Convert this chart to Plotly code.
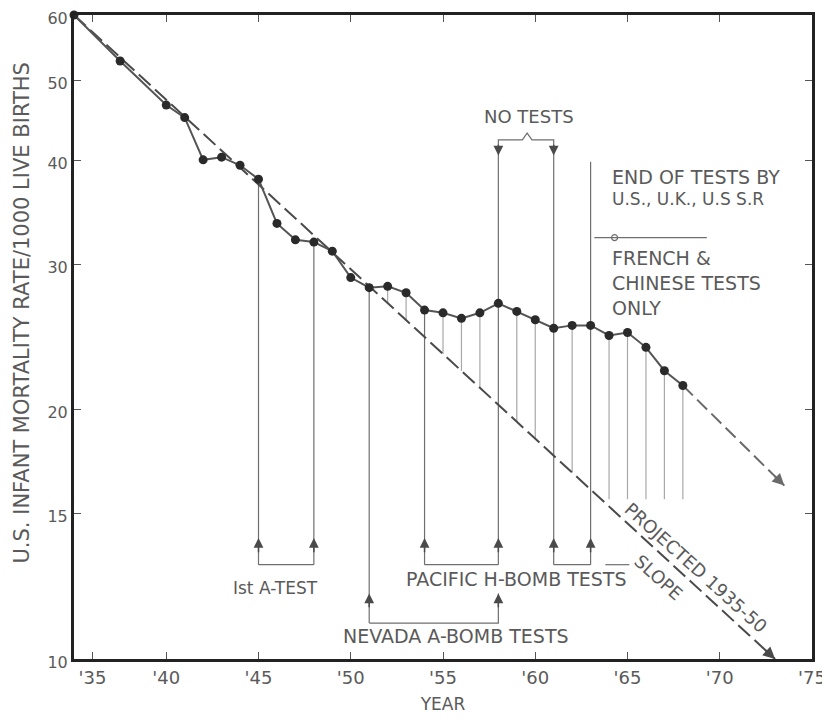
import math
import plotly.graph_objects as go

# ---------------- data ----------------
years = [1935, 1937.5, 1940, 1941, 1942, 1943, 1944, 1945, 1946, 1947, 1948, 1949,
         1950, 1951, 1952, 1953, 1954, 1955, 1956, 1957, 1958, 1959, 1960, 1961,
         1962, 1963, 1964, 1965, 1966, 1967, 1968]
rates = [60.0, 52.8, 46.7, 45.1, 40.1, 40.4, 39.5, 38.0, 33.6, 32.1, 31.9, 31.1,
         28.9, 28.1, 28.2, 27.7, 26.4, 26.2, 25.8, 26.2, 26.9, 26.3, 25.7, 25.1,
         25.3, 25.3, 24.6, 24.8, 23.8, 22.3, 21.4]

proj_years = [1935, 1973]          # projected 1935-50 slope
proj_rates = [60.0, 10.0]
ext_years = [1968, 1973.5]         # extension of the recent trend
ext_rates = [21.4, 16.2]

hatch_years = [1952, 1953, 1955, 1956, 1957, 1959, 1960, 1962, 1964, 1965, 1966, 1967, 1968]
hatch_floor = 15.6

a_test_years = [1945, 1948]
pacific_years = [1954, 1958, 1961, 1963]
nevada_years = [1951, 1958]
no_test_years = [1958, 1961]
end_us_year = 1963

x_tickvals = [1936, 1940, 1945, 1950, 1955, 1960, 1965, 1970, 1975]
x_ticktext = ["'35", "'40", "'45", "'50", "'55", "'60", "'65", "'70", "'75"]
y_tickvals = [10, 15, 20, 30, 40, 50, 60]
y_ticktext = ["10", "15", "20", "30", "40", "50", "60"]

# ---------------- helpers ----------------
rate_of = dict(zip(years, rates))
L0, L1 = math.log10(proj_rates[0]), math.log10(proj_rates[1])


def proj(yr):
    t = (yr - proj_years[0]) / (proj_years[1] - proj_years[0])
    return 10 ** (L0 + (L1 - L0) * t)


FONT = "DejaVu Sans"
TXT = "#5a5a5a"
GRAY = "#6f6f6f"
LIGHT = "#a8a8a8"

fig = go.Figure()

# hatch lines between observed values and projection
hx, hy = [], []
for yr in hatch_years:
    hx += [yr, yr, None]
    hy += [rate_of[yr], max(proj(yr), hatch_floor), None]
fig.add_trace(go.Scatter(x=hx, y=hy, mode="lines", line=dict(color=LIGHT, width=1.2),
                         hoverinfo="skip", showlegend=False))

# test marker lines
BR_P = 13.0     # bracket level for A-test / Pacific
BR_N = 11.05    # bracket level for Nevada
TOP_NT = 41.6   # top of the "no tests" lines
TOP_END = 39.9

tx, ty = [], []
for yr in a_test_years:
    tx += [yr, yr, None]
    ty += [rate_of[yr], BR_P, None]
tx += [a_test_years[0], a_test_years[1], None]
ty += [BR_P, BR_P, None]
# Pacific
tx += [1954, 1954, None]; ty += [rate_of[1954], BR_P, None]
tx += [1958, 1958, None]; ty += [TOP_NT, BR_P, None]
tx += [1961, 1961, None]; ty += [TOP_NT, BR_P, None]
tx += [end_us_year, end_us_year, None]; ty += [TOP_END, BR_P, None]
tx += [1954, 1958, None]; ty += [BR_P, BR_P, None]
tx += [1961, 1963, None]; ty += [BR_P, BR_P, None]
tx += [1963.8, 1965.1, None]; ty += [BR_P, BR_P, None]
# Nevada
tx += [1951, 1951, None]; ty += [rate_of[1951], BR_N, None]
tx += [1951, 1958, 1958, None]; ty += [BR_N, BR_N, 12.0, None]
fig.add_trace(go.Scatter(x=tx, y=ty, mode="lines", line=dict(color=GRAY, width=1.2),
                         hoverinfo="skip", showlegend=False))

# "no tests" brace
fig.add_trace(go.Scatter(x=[1958, 1958, 1959.3, 1959.56, 1959.82, 1961, 1961],
                         y=[41.4, 42.4, 42.4, 43.2, 42.4, 42.4, 41.4],
                         mode="lines", line=dict(color=GRAY, width=1.2),
                         hoverinfo="skip", showlegend=False))

# French & Chinese pointer line
fig.add_trace(go.Scatter(x=[1963.2, 1969.3], y=[32.3, 32.3], mode="lines",
                         line=dict(color=GRAY, width=1.2), hoverinfo="skip", showlegend=False))
fig.add_trace(go.Scatter(x=[1964.3], y=[32.3], mode="markers",
                         marker=dict(symbol="circle-open", size=6, color=GRAY, line=dict(width=1.2)),
                         hoverinfo="skip", showlegend=False))

# projection line
fig.add_trace(go.Scatter(x=proj_years, y=proj_rates, mode="lines",
                         line=dict(color="#4a4a4a", width=2, dash="16px,6px"),
                         hoverinfo="skip", showlegend=False, cliponaxis=False))
# recent-trend extension
fig.add_trace(go.Scatter(x=ext_years, y=ext_rates, mode="lines",
                         line=dict(color="#6a6a6a", width=2, dash="14px,6px"),
                         hoverinfo="skip", showlegend=False))

# observed data
fig.add_trace(go.Scatter(x=years, y=rates, mode="lines+markers",
                         line=dict(color="#555555", width=2),
                         marker=dict(color="#2a2a2a", size=9),
                         cliponaxis=False, showlegend=False))

# ---------------- annotations ----------------
ann = []


def arrow(x, tip, tail, color="#4a4a4a"):
    ann.append(dict(x=x, y=math.log10(tip), ax=x, ay=math.log10(tail), xref="x", yref="y",
                    axref="x", ayref="y", showarrow=True, arrowhead=2, arrowsize=1.3,
                    arrowwidth=1.5, arrowcolor=color, text=""))


for yr in a_test_years + pacific_years:
    arrow(yr, 14.0, 13.4)
for yr in nevada_years:
    arrow(yr, 12.0, 11.5)
for yr in no_test_years:
    arrow(yr, 40.6, 42.0)

# arrowheads at the end of the two projected lines
t_end = proj_years[1] - 0.6
ann.append(dict(x=proj_years[1], y=math.log10(proj_rates[1]), ax=t_end, ay=math.log10(proj(t_end)),
                xref="x", yref="y", axref="x", ayref="y", showarrow=True, arrowhead=2,
                arrowsize=1.2, arrowwidth=2, arrowcolor="#4a4a4a", text=""))
e0 = math.log10(ext_rates[0]); e1 = math.log10(ext_rates[1])
fr = (ext_years[1] - 0.6 - ext_years[0]) / (ext_years[1] - ext_years[0])
ann.append(dict(x=ext_years[1], y=e1, ax=ext_years[1] - 0.6, ay=e0 + (e1 - e0) * fr,
                xref="x", yref="y", axref="x", ayref="y", showarrow=True, arrowhead=2,
                arrowsize=1.2, arrowwidth=2, arrowcolor="#6a6a6a", text=""))


def label(text, x, y, size=18, xanchor="center", angle=0):
    ann.append(dict(x=x, y=math.log10(y), xref="x", yref="y", text=text, showarrow=False,
                    xanchor=xanchor, yanchor="middle", textangle=angle,
                    font=dict(family=FONT, size=size, color=TXT)))


label("NO TESTS", 1959.65, 45.2)
label("END OF TESTS BY", 1964.05, 38.2, xanchor="left", size=19)
label("U.S., U.K., U.S S.R", 1964.05, 35.95, xanchor="left", size=17)
label("FRENCH &amp;", 1964.05, 30.5, xanchor="left", size=19)
label("CHINESE TESTS", 1964.05, 28.45, xanchor="left", size=19)
label("ONLY", 1964.05, 26.55, xanchor="left", size=19)
label("Ist A-TEST", 1945.9, 12.2, size=17)
label("PACIFIC H-BOMB TESTS", 1959.0, 12.5, size=19)
label("NEVADA A-BOMB TESTS", 1955.7, 10.66, size=19)
label("PROJECTED 1935-50", 1968.7, 12.9, angle=42)
label("SLOPE", 1966.7, 12.55, angle=42)

# y axis title
ann.append(dict(x=-0.07, y=0.537, xref="paper", yref="paper", showarrow=False,
                text="U.S. INFANT MORTALITY RATE/1000 LIVE BIRTHS", textangle=-90,
                xanchor="center", yanchor="middle", font=dict(family=FONT, size=21, color=TXT)))

# the page body adds an 8px offset, so the figure is sized/margined to land the plot in place
fig.update_layout(
    width=822, height=711,
    margin=dict(l=66, r=18, t=7, b=60, autoexpand=False),
    paper_bgcolor="white", plot_bgcolor="white",
    showlegend=False,
    annotations=ann,
    xaxis=dict(range=[1935, 1975], tickvals=x_tickvals, ticktext=x_ticktext, automargin=False,
               ticklabeloverflow="allow",
               showgrid=False, zeroline=False, showline=True, linewidth=3, linecolor="#222",
               mirror="ticks", ticks="inside", ticklen=7, tickwidth=1.2, tickcolor="#555",
               tickfont=dict(family=FONT, size=18, color=TXT),
               title=dict(text="YEAR", font=dict(family=FONT, size=17, color=TXT), standoff=12)),
    yaxis=dict(type="log", range=[1, math.log10(60)], tickvals=y_tickvals, ticktext=y_ticktext,
               automargin=False, ticklabeloverflow="allow", ticklabelshift=3,
               showgrid=False, zeroline=False, showline=True, linewidth=3, linecolor="#222",
               mirror="ticks", ticks="inside", ticklen=7, tickwidth=1.2, tickcolor="#555",
               tickfont=dict(family=FONT, size=16, color=TXT)),
)

fig.write_html("out.html")
